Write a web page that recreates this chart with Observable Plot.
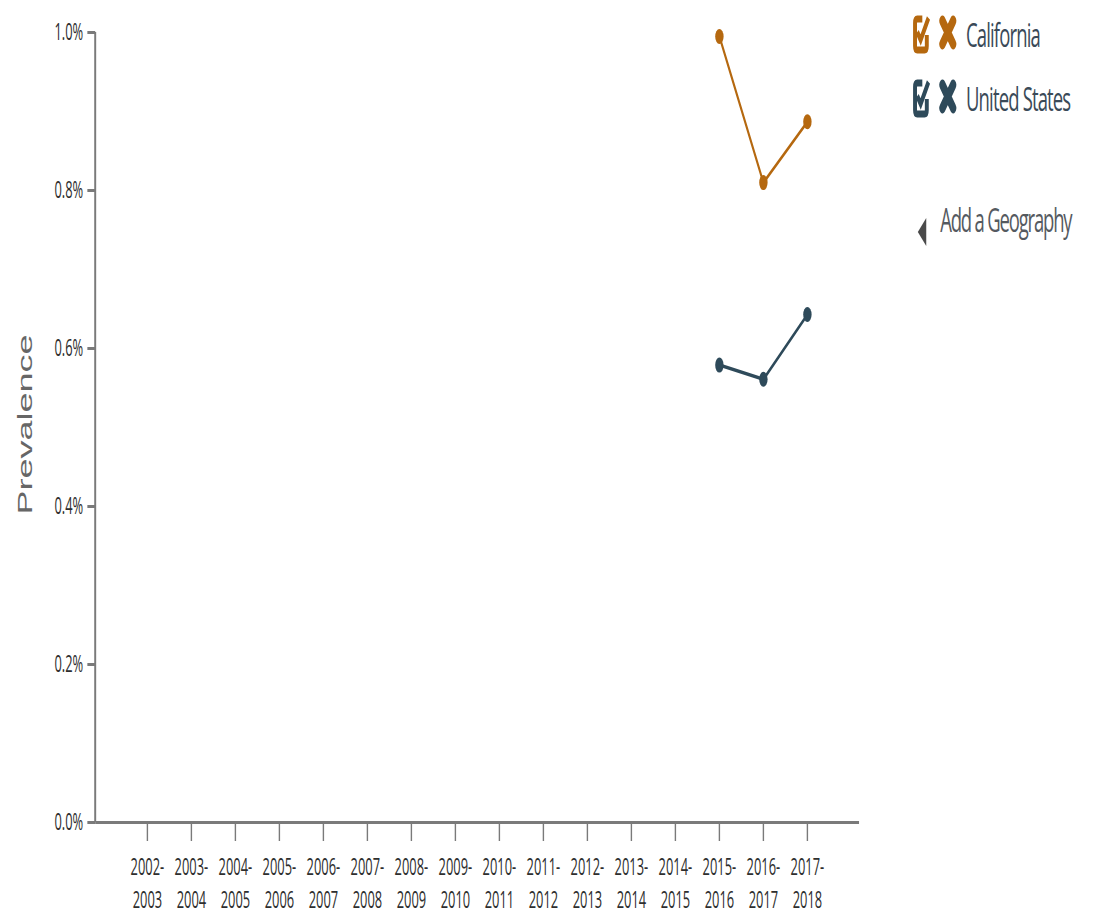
<!DOCTYPE html>
<html>
<head>
<meta charset="utf-8">
<script src="https://cdn.jsdelivr.net/npm/d3@7"></script>
<script src="https://cdn.jsdelivr.net/npm/@observablehq/plot@0.6"></script>
<style>
  html, body { margin: 0; padding: 0; background: #fff; overflow: hidden; }
  #wrap { position: relative; width: 1963px; height: 914px; transform: scaleX(0.56); transform-origin: 0 0; }
  #wrap > svg { position: absolute; left: 0; top: 0; }
</style>
</head>
<body>
<div id="wrap"></div>
<script>
// Survey periods shown on the x axis
const periods = [
  "2002-2003", "2003-2004", "2004-2005", "2005-2006", "2006-2007", "2007-2008",
  "2008-2009", "2009-2010", "2010-2011", "2011-2012", "2012-2013", "2013-2014",
  "2014-2015", "2015-2016", "2016-2017", "2017-2018"
];

// Geographies and their colours
const series = ["California", "United States"];
const seriesColors = ["#b5680f", "#2e4a5a"];

// Periods with reported prevalence (percent)
const reportedPeriods = ["2015-2016", "2016-2017", "2017-2018"];
const californiaValues = [0.995, 0.810, 0.887];
const unitedStatesValues = [0.579, 0.561, 0.643];

// Y axis ticks (percent)
const yTicks = [0, 0.2, 0.4, 0.6, 0.8, 1.0];

const rows = reportedPeriods.flatMap((period, i) => [
  {geo: series[0], period, value: californiaValues[i]},
  {geo: series[1], period, value: unitedStatesValues[i]}
]);

const axisColor = "#7a7a7a";
const labelColor = "#2e2e2e";
const fontFamily = "'Open Sans', sans-serif";

// vertical axis line along the left edge of the frame
function yAxisLine(index, scales, values, dimensions) {
  const x = dimensions.marginLeft;
  return d3.create("svg:line")
    .attr("x1", x).attr("x2", x)
    .attr("y1", scales.y(1)).attr("y2", scales.y(0))
    .attr("stroke", axisColor)
    .attr("stroke-width", 3.5)
    .node();
}

const chart = Plot.plot({
  width: 1571,
  height: 914,
  marginLeft: 170,
  marginRight: 37,
  marginTop: 32,
  marginBottom: 92,
  style: {fontFamily, background: "transparent"},
  x: {type: "point", domain: periods, padding: 1.18, round: false, axis: null},
  y: {domain: [0, 1], axis: null},
  color: {domain: series, range: seriesColors},
  marks: [
    Plot.ruleY([0], {stroke: axisColor, strokeWidth: 3}),
    yAxisLine,
    Plot.axisY({
      ticks: yTicks,
      tickFormat: d => d.toFixed(1) + "%",
      tickSize: 14,
      tickPadding: 8,
      fontSize: 23,
      fontFamily,
      stroke: axisColor,
      strokeWidth: 3,
      fill: labelColor,
      label: null
    }),
    Plot.axisX({
      tickFormat: d => d.replace("-", "-\n"),
      tickSize: 19,
      tickPadding: 10,
      lineHeight: 1.43,
      fontSize: 23,
      fontFamily,
      stroke: axisColor,
      strokeWidth: 2.5,
      fill: labelColor,
      label: null
    }),
    Plot.text(["Prevalence"], {
      frameAnchor: "left",
      textAnchor: "middle",
      dx: -125,
      dy: -3,
      rotate: -90,
      fontSize: 36,
      fontFamily: "'Liberation Sans', Arial, sans-serif",
      fill: "#666"
    }),
    Plot.line(rows, {x: "period", y: "value", z: "geo", stroke: "geo", strokeWidth: 3.5}),
    Plot.dot(rows, {x: "period", y: "value", fill: "geo", r: 7.5})
  ]
});

const wrap = document.getElementById("wrap");
wrap.appendChild(chart);

// Geography legend: checkbox, remove cross and name for each series
const legend = d3.create("svg")
  .attr("width", 1963)
  .attr("height", 280)
  .style("font-family", fontFamily);

series.forEach((name, i) => {
  const color = seriesColors[i];
  const g = legend.append("g").attr("transform", `translate(0, ${i * 64})`);
  // checkbox with check mark
  const box = g.append("g").attr("transform", "translate(1630, 16)");
  box.append("path")
    .attr("d", "M17,3 H8 Q4,3 4,7 V30 Q4,34 8,34 H21 Q25,34 25,30 V19")
    .attr("fill", "none").attr("stroke", color).attr("stroke-width", 7);
  box.append("path")
    .attr("d", "M8,16 L14,24 L28,2")
    .attr("fill", "none").attr("stroke", color).attr("stroke-width", 6.5);
  // remove cross
  const x = g.append("g").attr("transform", "translate(1679, 18)");
  x.append("path")
    .attr("d", "M4,3 L23,26 M23,3 L4,26")
    .attr("fill", "none").attr("stroke", color).attr("stroke-width", 11)
    .attr("stroke-linecap", "round");
  g.append("text")
    .attr("x", 1725).attr("y", 47)
    .attr("font-size", 33)
    .attr("letter-spacing", -1.5)
    .attr("fill", "#3a4a58")
    .text(name);
});

// add-geography control
const add = legend.append("g");
add.append("path")
  .attr("d", "M1639,232 L1654,218 L1654,246 Z")
  .attr("fill", "#4a4a4a");
add.append("text")
  .attr("x", 1679).attr("y", 232)
  .attr("font-size", 33)
  .attr("letter-spacing", -2.1)
  .attr("fill", "#555a60")
  .text("Add a Geography");

wrap.appendChild(legend.node());
</script>
</body>
</html>
